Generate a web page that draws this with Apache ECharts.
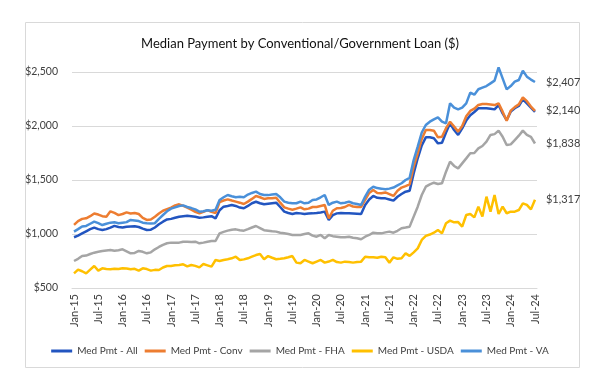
<!DOCTYPE html>
<html><head><meta charset="utf-8">
<script src="https://cdn.jsdelivr.net/npm/echarts@6/dist/echarts.min.js"></script>
<style>html,body{margin:0;padding:0;background:#fff}#c{width:600px;height:391px}</style>
</head><body><div id="c"></div>
<script>
// Month categories Jan-15 .. Jul-24
var monthNames = ['Jan','Feb','Mar','Apr','May','Jun','Jul','Aug','Sep','Oct','Nov','Dec'];
var categories = [];
for (var y = 15; y <= 24; y++) {
  for (var m = 0; m < 12; m++) {
    if (y === 24 && m > 6) break;
    categories.push(monthNames[m] + '-' + y);
  }
}
var seriesNames = ['Med Pmt - All','Med Pmt - Conv','Med Pmt - FHA','Med Pmt - USDA','Med Pmt - VA'];

var medAll = [970,985,1005,1025,1045,1059,1045,1037,1045,1059,
1075,1065,1060,1068,1070,1072,1065,1050,1037,1040,
1060,1090,1114,1135,1140,1151,1160,1165,1170,1165,
1160,1150,1154,1160,1165,1145,1220,1253,1260,1269,
1260,1245,1238,1260,1285,1299,1285,1275,1280,1285,
1290,1250,1207,1195,1185,1195,1191,1185,1190,1191,
1195,1200,1207,1130,1175,1191,1195,1192,1191,1190,
1188,1185,1269,1320,1352,1335,1330,1330,1320,1309,
1345,1370,1392,1400,1560,1701,1820,1895,1895,1886,
1839,1845,1940,2025,1963,1917,1978,2050,2100,2130,
2164,2164,2164,2160,2154,2194,2117,2055,2133,2165,
2185,2247,2210,2170,2130];

var medConv = [1085,1120,1140,1145,1165,1190,1180,1165,1160,1210,
1195,1175,1185,1200,1190,1195,1185,1150,1130,1135,
1160,1190,1215,1230,1245,1265,1275,1260,1245,1225,
1205,1191,1205,1222,1205,1195,1295,1310,1321,1310,
1300,1290,1278,1300,1325,1352,1340,1325,1330,1330,
1335,1290,1247,1235,1225,1235,1247,1229,1235,1250,
1250,1260,1269,1145,1215,1238,1240,1250,1269,1255,
1250,1250,1315,1380,1407,1380,1377,1385,1370,1352,
1400,1430,1444,1460,1623,1747,1880,1963,1963,1957,
1895,1900,1980,2040,1994,1948,2000,2090,2140,2160,
2195,2204,2204,2200,2194,2210,2133,2049,2142,2175,
2200,2265,2230,2180,2140];

var medFHA = [750,770,796,800,815,827,835,843,848,852,
845,850,858,840,821,825,843,835,821,830,
858,880,900,914,920,918,920,929,929,925,
929,914,920,929,935,935,1006,1020,1031,1040,
1043,1035,1031,1045,1060,1074,1055,1035,1031,1025,
1022,1012,1006,1000,991,991,991,1000,1006,985,
975,991,960,991,980,975,969,970,975,965,
960,951,975,991,1012,1008,1006,1015,1022,1012,
1030,1053,1060,1068,1161,1253,1361,1438,1460,1475,
1463,1470,1577,1670,1630,1608,1654,1700,1747,1750,
1793,1815,1855,1917,1925,1957,1901,1824,1830,1870,
1910,1957,1917,1900,1838];

var medUSDA = [636,670,655,636,670,704,661,682,675,673,
678,675,682,680,673,678,661,682,675,661,
668,667,690,704,704,710,713,719,700,713,
705,691,722,710,698,759,750,760,766,775,
790,759,765,775,790,805,815,766,796,780,
766,770,775,785,796,735,729,760,745,729,
745,760,735,745,760,740,735,744,740,735,
740,744,790,785,784,780,790,784,735,784,
770,775,821,797,830,867,945,982,995,1012,
1037,1006,1099,1124,1108,1110,1068,1176,1185,1154,
1253,1161,1346,1207,1361,1185,1253,1192,1207,1207,
1222,1284,1269,1228,1317];

var medVA = [1022,1045,1070,1075,1095,1114,1100,1083,1095,1105,
1108,1100,1105,1110,1130,1125,1120,1105,1099,1098,
1100,1140,1176,1210,1235,1247,1259,1265,1250,1240,
1228,1207,1210,1220,1215,1225,1315,1340,1361,1350,
1340,1345,1340,1365,1380,1392,1370,1361,1360,1365,
1370,1340,1300,1290,1284,1285,1300,1284,1290,1315,
1320,1340,1361,1269,1290,1300,1284,1290,1300,1285,
1278,1269,1346,1410,1438,1425,1420,1414,1420,1430,
1450,1470,1500,1520,1685,1809,1940,2009,2040,2062,
2080,2040,2025,2210,2170,2154,2170,2210,2309,2290,
2340,2355,2370,2395,2420,2543,2441,2339,2370,2410,
2426,2512,2457,2430,2407];

var yTicks = {min: 500, max: 2500, step: 500};
var colors = ['#2255C0','#ED7D31','#A5A5A5','#FFC000','#4A90D9'];
var showEnd = [false, true, true, true, true];
var FONT = 'Lato, "Open Sans", sans-serif';

function money(v){ return '$' + Number(v).toLocaleString('en-US'); }

var dataSets = [medAll, medConv, medFHA, medUSDA, medVA];
var series = dataSets.map(function(d, k){
  return {
    name: seriesNames[k], type: 'line', data: d,
    symbol: 'none', smooth: false, clip: false,
    lineStyle: {width: 2.5, color: colors[k]},
    itemStyle: {color: colors[k]},
    endLabel: {show: showEnd[k], formatter: function(p){ return money(p.value); },
      color: '#404040', fontSize: 11, fontFamily: FONT, distance: 11},
    z: 2 + k
  };
});

var chart = echarts.init(document.getElementById('c'));
chart.setOption({
  animation: false,
  color: colors,
  title: {text: 'Median Payment by Conventional/Government Loan ($)', left: 'center', top: 32,
    textStyle: {fontSize: 13, fontWeight: 'normal', color: '#111', fontFamily: FONT}},
  graphic: [{type: 'rect', shape: {x: 25.5, y: 22.5, width: 554, height: 345},
    style: {fill: 'none', stroke: '#d9d9d9', lineWidth: 1}, silent: true}],
  legend: {data: seriesNames, bottom: 30, left: 'center', icon: 'rect', itemWidth: 21, itemHeight: 3, itemGap: 7,
    textStyle: {fontSize: 10, color: '#404040', fontFamily: FONT}},
  grid: {left: 72, right: 63, top: 72, bottom: 103},
  xAxis: {type: 'category', data: categories, boundaryGap: true,
    axisTick: {show: false}, axisLine: {lineStyle: {color: '#d9d9d9'}},
    axisLabel: {interval: 5, rotate: 90, fontSize: 11, color: '#404040', margin: 6, fontFamily: FONT}},
  yAxis: {type: 'value', min: yTicks.min, max: yTicks.max, interval: yTicks.step,
    axisLine: {show: false}, axisTick: {show: false},
    splitLine: {lineStyle: {color: '#d9d9d9'}},
    axisLabel: {formatter: money, fontSize: 10.5, color: '#404040', margin: 14, fontFamily: FONT}},
  series: series
});
</script></body></html>
